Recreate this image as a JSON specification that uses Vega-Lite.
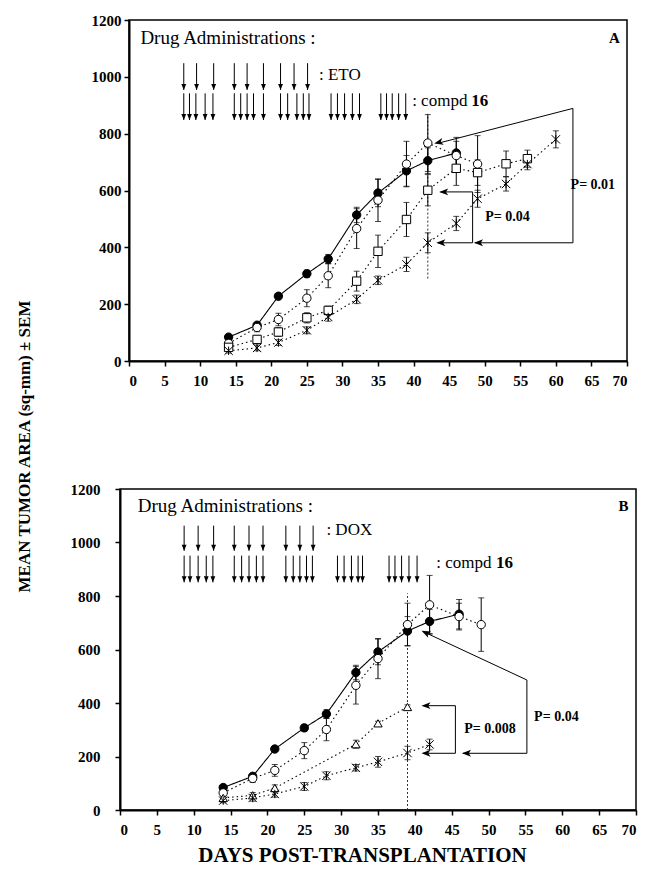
{
  "$schema": "https://vega.github.io/schema/vega-lite/v6.json",
  "background": "white",
  "padding": {"left": 14, "top": 12, "right": 5, "bottom": 5},
  "bounds": "flush",
  "center": true,
  "spacing": 128,
  "config": {
    "view": {"stroke": "black", "strokeWidth": 1.5},
    "font": "Liberation Serif",
    "axis": {
      "grid": false,
      "labelFont": "Liberation Serif",
      "labelFontWeight": "bold",
      "labelFontSize": 15,
      "labelColor": "black",
      "labelOverlap": false,
      "domainColor": "black",
      "domainWidth": 2,
      "tickColor": "black",
      "tickWidth": 1.5,
      "tickSize": 5,
      "format": "d",
      "titleFont": "Liberation Serif",
      "titleFontWeight": "bold",
      "titleColor": "black"
    }
  },
  "datasets": {
    "pts": [
      {"p":"A","g":"ctrl","day":14,"val":84,"lo":77,"hi":91},
      {"p":"A","g":"ctrl","day":18,"val":126,"lo":117,"hi":135},
      {"p":"A","g":"ctrl","day":21,"val":228,"lo":219,"hi":237},
      {"p":"A","g":"ctrl","day":25,"val":307,"lo":294,"hi":320},
      {"p":"A","g":"ctrl","day":28,"val":359,"lo":343,"hi":375},
      {"p":"A","g":"ctrl","day":32,"val":514,"lo":487,"hi":541},
      {"p":"A","g":"ctrl","day":35,"val":591,"lo":543,"hi":639},
      {"p":"A","g":"ctrl","day":39,"val":669,"lo":615,"hi":723},
      {"p":"A","g":"ctrl","day":42,"val":705,"lo":660,"hi":750},
      {"p":"A","g":"ctrl","day":46,"val":732,"lo":677,"hi":787},
      {"p":"A","g":"c16","day":14,"val":62,"lo":52,"hi":72},
      {"p":"A","g":"c16","day":18,"val":118,"lo":103,"hi":133},
      {"p":"A","g":"c16","day":21,"val":146,"lo":124,"hi":168},
      {"p":"A","g":"c16","day":25,"val":221,"lo":191,"hi":251},
      {"p":"A","g":"c16","day":28,"val":300,"lo":258,"hi":342},
      {"p":"A","g":"c16","day":32,"val":466,"lo":396,"hi":536},
      {"p":"A","g":"c16","day":35,"val":566,"lo":491,"hi":641},
      {"p":"A","g":"c16","day":39,"val":693,"lo":613,"hi":773},
      {"p":"A","g":"c16","day":42,"val":767,"lo":667,"hi":867},
      {"p":"A","g":"c16","day":46,"val":723,"lo":673,"hi":773},
      {"p":"A","g":"c16","day":49,"val":693,"lo":593,"hi":793},
      {"p":"A","g":"drug","day":14,"val":48,"lo":40,"hi":56},
      {"p":"A","g":"drug","day":18,"val":76,"lo":64,"hi":88},
      {"p":"A","g":"drug","day":21,"val":102,"lo":87,"hi":117},
      {"p":"A","g":"drug","day":25,"val":152,"lo":134,"hi":170},
      {"p":"A","g":"drug","day":28,"val":178,"lo":163,"hi":193},
      {"p":"A","g":"drug","day":32,"val":281,"lo":246,"hi":316},
      {"p":"A","g":"drug","day":35,"val":386,"lo":329,"hi":443},
      {"p":"A","g":"drug","day":39,"val":498,"lo":438,"hi":558},
      {"p":"A","g":"drug","day":42,"val":601,"lo":546,"hi":656},
      {"p":"A","g":"drug","day":46,"val":678,"lo":618,"hi":738},
      {"p":"A","g":"drug","day":49,"val":663,"lo":618,"hi":708},
      {"p":"A","g":"drug","day":53,"val":694,"lo":649,"hi":739},
      {"p":"A","g":"drug","day":56,"val":712,"lo":682,"hi":742},
      {"p":"A","g":"combo","day":14,"val":36,"lo":28,"hi":44},
      {"p":"A","g":"combo","day":18,"val":46,"lo":36,"hi":56},
      {"p":"A","g":"combo","day":21,"val":65,"lo":55,"hi":75},
      {"p":"A","g":"combo","day":25,"val":108,"lo":96,"hi":120},
      {"p":"A","g":"combo","day":28,"val":155,"lo":140,"hi":170},
      {"p":"A","g":"combo","day":32,"val":217,"lo":202,"hi":232},
      {"p":"A","g":"combo","day":35,"val":284,"lo":269,"hi":299},
      {"p":"A","g":"combo","day":39,"val":340,"lo":315,"hi":365},
      {"p":"A","g":"combo","day":42,"val":416,"lo":381,"hi":451},
      {"p":"A","g":"combo","day":46,"val":484,"lo":459,"hi":509},
      {"p":"A","g":"combo","day":49,"val":571,"lo":541,"hi":601},
      {"p":"A","g":"combo","day":53,"val":623,"lo":598,"hi":648},
      {"p":"A","g":"combo","day":56,"val":693,"lo":673,"hi":713},
      {"p":"A","g":"combo","day":60,"val":780,"lo":750,"hi":810},
      {"p":"B","g":"ctrl","day":14,"val":84,"lo":77,"hi":91},
      {"p":"B","g":"ctrl","day":18,"val":126,"lo":117,"hi":135},
      {"p":"B","g":"ctrl","day":21,"val":228,"lo":219,"hi":237},
      {"p":"B","g":"ctrl","day":25,"val":307,"lo":294,"hi":320},
      {"p":"B","g":"ctrl","day":28,"val":359,"lo":343,"hi":375},
      {"p":"B","g":"ctrl","day":32,"val":514,"lo":487,"hi":541},
      {"p":"B","g":"ctrl","day":35,"val":591,"lo":543,"hi":639},
      {"p":"B","g":"ctrl","day":39,"val":669,"lo":615,"hi":723},
      {"p":"B","g":"ctrl","day":42,"val":705,"lo":660,"hi":750},
      {"p":"B","g":"ctrl","day":46,"val":732,"lo":677,"hi":787},
      {"p":"B","g":"c16","day":14,"val":64,"lo":54,"hi":74},
      {"p":"B","g":"c16","day":18,"val":118,"lo":103,"hi":133},
      {"p":"B","g":"c16","day":21,"val":148,"lo":126,"hi":170},
      {"p":"B","g":"c16","day":25,"val":222,"lo":192,"hi":252},
      {"p":"B","g":"c16","day":28,"val":301,"lo":259,"hi":343},
      {"p":"B","g":"c16","day":32,"val":466,"lo":396,"hi":536},
      {"p":"B","g":"c16","day":35,"val":566,"lo":491,"hi":641},
      {"p":"B","g":"c16","day":39,"val":693,"lo":613,"hi":773},
      {"p":"B","g":"c16","day":42,"val":767,"lo":657,"hi":877},
      {"p":"B","g":"c16","day":46,"val":723,"lo":673,"hi":773},
      {"p":"B","g":"c16","day":49,"val":693,"lo":593,"hi":793},
      {"p":"B","g":"drug","day":14,"val":45,"lo":38,"hi":52},
      {"p":"B","g":"drug","day":18,"val":55,"lo":45,"hi":65},
      {"p":"B","g":"drug","day":21,"val":82,"lo":70,"hi":94},
      {"p":"B","g":"drug","day":32,"val":246,"lo":231,"hi":261},
      {"p":"B","g":"drug","day":35,"val":324,"lo":316,"hi":332},
      {"p":"B","g":"drug","day":39,"val":385,"lo":377,"hi":393},
      {"p":"B","g":"combo","day":14,"val":35,"lo":27,"hi":43},
      {"p":"B","g":"combo","day":18,"val":45,"lo":33,"hi":57},
      {"p":"B","g":"combo","day":21,"val":60,"lo":48,"hi":72},
      {"p":"B","g":"combo","day":25,"val":88,"lo":73,"hi":103},
      {"p":"B","g":"combo","day":28,"val":128,"lo":113,"hi":143},
      {"p":"B","g":"combo","day":32,"val":158,"lo":146,"hi":170},
      {"p":"B","g":"combo","day":35,"val":180,"lo":160,"hi":200},
      {"p":"B","g":"combo","day":39,"val":213,"lo":188,"hi":238},
      {"p":"B","g":"combo","day":42,"val":245,"lo":225,"hi":265}
    ],
    "doses": [
      {"p":"A","r":"drug","day":7.7,"val":1048,"val2":954},
      {"p":"A","r":"drug","day":9.5,"val":1048,"val2":954},
      {"p":"A","r":"drug","day":11.9,"val":1048,"val2":954},
      {"p":"A","r":"drug","day":14.8,"val":1048,"val2":954},
      {"p":"A","r":"drug","day":16.6,"val":1048,"val2":954},
      {"p":"A","r":"drug","day":18.9,"val":1048,"val2":954},
      {"p":"A","r":"drug","day":21.3,"val":1048,"val2":954},
      {"p":"A","r":"drug","day":23.2,"val":1048,"val2":954},
      {"p":"A","r":"drug","day":25.1,"val":1048,"val2":954},
      {"p":"A","r":"c16","day":7.7,"val":942,"val2":848},
      {"p":"A","r":"c16","day":8.5,"val":942,"val2":848},
      {"p":"A","r":"c16","day":9.4,"val":942,"val2":848},
      {"p":"A","r":"c16","day":10.7,"val":942,"val2":848},
      {"p":"A","r":"c16","day":11.8,"val":942,"val2":848},
      {"p":"A","r":"c16","day":14.8,"val":942,"val2":848},
      {"p":"A","r":"c16","day":15.7,"val":942,"val2":848},
      {"p":"A","r":"c16","day":16.6,"val":942,"val2":848},
      {"p":"A","r":"c16","day":17.5,"val":942,"val2":848},
      {"p":"A","r":"c16","day":18.9,"val":942,"val2":848},
      {"p":"A","r":"c16","day":21.3,"val":942,"val2":848},
      {"p":"A","r":"c16","day":22.3,"val":942,"val2":848},
      {"p":"A","r":"c16","day":23.6,"val":942,"val2":848},
      {"p":"A","r":"c16","day":24.5,"val":942,"val2":848},
      {"p":"A","r":"c16","day":25.3,"val":942,"val2":848},
      {"p":"A","r":"c16","day":28.4,"val":942,"val2":848},
      {"p":"A","r":"c16","day":29.3,"val":942,"val2":848},
      {"p":"A","r":"c16","day":30.3,"val":942,"val2":848},
      {"p":"A","r":"c16","day":31.4,"val":942,"val2":848},
      {"p":"A","r":"c16","day":32.4,"val":942,"val2":848},
      {"p":"A","r":"c16","day":35.4,"val":942,"val2":848},
      {"p":"A","r":"c16","day":36.2,"val":942,"val2":848},
      {"p":"A","r":"c16","day":37.0,"val":942,"val2":848},
      {"p":"A","r":"c16","day":37.9,"val":942,"val2":848},
      {"p":"A","r":"c16","day":38.9,"val":942,"val2":848},
      {"p":"B","r":"drug","day":8.7,"val":1063,"val2":969},
      {"p":"B","r":"drug","day":10.6,"val":1063,"val2":969},
      {"p":"B","r":"drug","day":12.7,"val":1063,"val2":969},
      {"p":"B","r":"drug","day":15.5,"val":1063,"val2":969},
      {"p":"B","r":"drug","day":17.5,"val":1063,"val2":969},
      {"p":"B","r":"drug","day":19.4,"val":1063,"val2":969},
      {"p":"B","r":"drug","day":22.5,"val":1063,"val2":969},
      {"p":"B","r":"drug","day":24.4,"val":1063,"val2":969},
      {"p":"B","r":"drug","day":26.2,"val":1063,"val2":969},
      {"p":"B","r":"c16","day":8.7,"val":951,"val2":851},
      {"p":"B","r":"c16","day":9.5,"val":951,"val2":851},
      {"p":"B","r":"c16","day":10.6,"val":951,"val2":851},
      {"p":"B","r":"c16","day":11.7,"val":951,"val2":851},
      {"p":"B","r":"c16","day":12.6,"val":951,"val2":851},
      {"p":"B","r":"c16","day":15.5,"val":951,"val2":851},
      {"p":"B","r":"c16","day":16.5,"val":951,"val2":851},
      {"p":"B","r":"c16","day":17.5,"val":951,"val2":851},
      {"p":"B","r":"c16","day":18.5,"val":951,"val2":851},
      {"p":"B","r":"c16","day":19.4,"val":951,"val2":851},
      {"p":"B","r":"c16","day":22.5,"val":951,"val2":851},
      {"p":"B","r":"c16","day":23.5,"val":951,"val2":851},
      {"p":"B","r":"c16","day":24.4,"val":951,"val2":851},
      {"p":"B","r":"c16","day":25.3,"val":951,"val2":851},
      {"p":"B","r":"c16","day":26.1,"val":951,"val2":851},
      {"p":"B","r":"c16","day":29.5,"val":951,"val2":851},
      {"p":"B","r":"c16","day":30.4,"val":951,"val2":851},
      {"p":"B","r":"c16","day":31.4,"val":951,"val2":851},
      {"p":"B","r":"c16","day":32.3,"val":951,"val2":851},
      {"p":"B","r":"c16","day":32.9,"val":951,"val2":851},
      {"p":"B","r":"c16","day":36.5,"val":951,"val2":851},
      {"p":"B","r":"c16","day":37.3,"val":951,"val2":851},
      {"p":"B","r":"c16","day":38.2,"val":951,"val2":851},
      {"p":"B","r":"c16","day":39.2,"val":951,"val2":851},
      {"p":"B","r":"c16","day":40.3,"val":951,"val2":851}
    ],
    "segs": [
      {"p":"A","k":"vl","day":42,"day2":42,"val":290,"val2":870},
      {"p":"A","k":"br","day":62.4,"day2":43.4,"val":889,"val2":766},
      {"p":"A","k":"br","day":62.4,"day2":62.4,"val":889,"val2":416},
      {"p":"A","k":"br","day":62.4,"day2":48.6,"val":416,"val2":416},
      {"p":"A","k":"br","day":48.3,"day2":48.3,"val":595,"val2":416},
      {"p":"A","k":"br","day":48.3,"day2":43.8,"val":595,"val2":595},
      {"p":"A","k":"br","day":48.3,"day2":43.4,"val":416,"val2":416},
      {"p":"B","k":"vl","day":39,"day2":39,"val":0,"val2":810},
      {"p":"B","k":"br","day":55.2,"day2":41.2,"val":486,"val2":666},
      {"p":"B","k":"br","day":55.2,"day2":55.2,"val":486,"val2":212},
      {"p":"B","k":"br","day":55.2,"day2":46.5,"val":212,"val2":212},
      {"p":"B","k":"br","day":45.5,"day2":45.5,"val":390,"val2":212},
      {"p":"B","k":"br","day":45.5,"day2":41.1,"val":390,"val2":390},
      {"p":"B","k":"br","day":45.5,"day2":41.1,"val":212,"val2":212}
    ],
    "heads": [
      {"p":"A","k":"left","day":48.5,"val":416},
      {"p":"A","k":"left","day":43.6,"val":595},
      {"p":"A","k":"left","day":43.2,"val":416},
      {"p":"A","k":"diag","day":42.9,"val":765},
      {"p":"B","k":"left","day":46.4,"val":212},
      {"p":"B","k":"left","day":40.9,"val":390},
      {"p":"B","k":"left","day":40.9,"val":212},
      {"p":"B","k":"diag","day":40.9,"val":670}
    ],
    "texts": [
      {"p":"A","role":"title","day":1.6,"val":1135,"label":"Drug Administrations :"},
      {"p":"A","role":"drug","day":26.7,"val":1008,"label":": ETO"},
      {"p":"A","role":"compd","day":39.8,"val":915,"label":": compd"},
      {"p":"A","role":"num","day":48.1,"val":915,"label":"16"},
      {"p":"A","role":"letter","day":69.0,"val":1135,"label":"A"},
      {"p":"A","role":"pval","day":65.2,"val":618,"label":"P= 0.01"},
      {"p":"A","role":"pval","day":53.2,"val":506,"label":"P= 0.04"},
      {"p":"B","role":"title","day":2.4,"val":1137,"label":"Drug Administrations :"},
      {"p":"B","role":"drug","day":28.0,"val":1045,"label":": DOX"},
      {"p":"B","role":"compd","day":42.9,"val":922,"label":": compd"},
      {"p":"B","role":"num","day":51.0,"val":922,"label":"16"},
      {"p":"B","role":"letter","day":69.0,"val":1135,"label":"B"},
      {"p":"B","role":"pval","day":59.2,"val":349,"label":"P= 0.04"},
      {"p":"B","role":"pval","day":50.2,"val":303,"label":"P= 0.008"}
    ]
  },
  "resolve": {"scale": {"x": "independent", "y": "independent", "shape": "independent", "fill": "independent", "strokeDash": "independent"}},
  "vconcat": [
    {
      "width": 498,
      "height": 341,
      "layer": [
        {
          "data": {"name": "segs"},
          "transform": [{"filter": "datum.p === 'A' && datum.k === 'vl'"}],
          "mark": {"type": "rule", "color": "#333", "strokeWidth": 1, "strokeDash": [2, 2]},
          "encoding": {
            "x": {"field": "day", "type": "quantitative", "scale": {"domain": [0, 70], "nice": false},
              "axis": {"title": null, "values": [0,5,10,15,20,25,30,35,40,45,50,55,60,65,70], "tickCount": 30, "labelOverlap": false, "labelPadding": 7}},
            "y": {"field": "val", "type": "quantitative", "scale": {"domain": [0, 1200], "nice": false},
              "axis": {"title": "MEAN TUMOR AREA (sq-mm) ± SEM", "values": [0,200,400,600,800,1000,1200], "tickCount": 20, "labelPadding": 3,
                "titleFontSize": 17, "titleAngle": 270, "titleAlign": "center", "titleBaseline": "bottom", "titleX": -96, "titleY": 426}},
            "x2": {"field": "day2"},
            "y2": {"field": "val2"}
          }
        },
        {
          "data": {"name": "pts"},
          "transform": [{"filter": "datum.p === 'A'"}],
          "mark": {"type": "line", "color": "black", "strokeWidth": 1.1},
          "encoding": {
            "x": {"field": "day", "type": "quantitative"},
            "y": {"field": "val", "type": "quantitative"},
            "detail": {"field": "g"},
            "strokeDash": {"field": "g", "type": "nominal", "legend": null,
              "scale": {"domain": ["ctrl", "c16", "drug", "combo"], "range": [[1, 0], [1.5, 3], [1.5, 3], [1.5, 3]]}}
          }
        },
        {
          "data": {"name": "pts"},
          "transform": [{"filter": "datum.p === 'A'"}],
          "mark": {"type": "errorbar", "ticks": {"size": 6}, "color": "black", "thickness": 1},
          "encoding": {
            "x": {"field": "day", "type": "quantitative"},
            "y": {"field": "lo", "type": "quantitative", "title": "MEAN TUMOR AREA (sq-mm) ± SEM"},
            "y2": {"field": "hi"}
          }
        },
        {
          "data": {"name": "pts"},
          "transform": [{"filter": "datum.p === 'A'"}],
          "mark": {"type": "point", "filled": true, "stroke": "black", "strokeWidth": 1, "opacity": 1, "size": 70},
          "encoding": {
            "x": {"field": "day", "type": "quantitative"},
            "y": {"field": "val", "type": "quantitative"},
            "shape": {"field": "g", "type": "nominal", "legend": null,
              "scale": {"domain": ["ctrl", "c16", "drug", "combo"], "range": ["circle", "circle", "square", "M-1,-1L1,1M1,-1L-1,1M0,-1L0,1"]}},
            "fill": {"field": "g", "type": "nominal", "legend": null,
              "scale": {"domain": ["ctrl", "c16", "drug", "combo"], "range": ["black", "white", "white", "white"]}}
          }
        },
        {
          "data": {"name": "doses"},
          "transform": [{"filter": "datum.p === 'A'"}],
          "mark": {"type": "rule", "color": "black", "strokeWidth": 1},
          "encoding": {
            "x": {"field": "day", "type": "quantitative"},
            "y": {"field": "val", "type": "quantitative"},
            "y2": {"field": "val2"}
          }
        },
        {
          "data": {"name": "doses"},
          "transform": [{"filter": "datum.p === 'A'"}],
          "mark": {"type": "point", "shape": "M0,0L-0.4,-1L0.4,-1Z", "filled": true, "color": "black", "opacity": 1, "size": 144},
          "encoding": {
            "x": {"field": "day", "type": "quantitative"},
            "y": {"field": "val2", "type": "quantitative"}
          }
        },
        {
          "data": {"name": "segs"},
          "transform": [{"filter": "datum.p === 'A' && datum.k === 'br'"}],
          "mark": {"type": "rule", "color": "black", "strokeWidth": 1},
          "encoding": {
            "x": {"field": "day", "type": "quantitative"},
            "y": {"field": "val", "type": "quantitative"},
            "x2": {"field": "day2"},
            "y2": {"field": "val2"}
          }
        },
        {
          "data": {"name": "heads"},
          "transform": [{"filter": "datum.p === 'A' && datum.k === 'left'"}],
          "mark": {"type": "point", "shape": "M0,0L1,-0.38L0.75,0L1,0.38Z", "filled": true, "color": "black", "opacity": 1, "size": 324},
          "encoding": {
            "x": {"field": "day", "type": "quantitative"},
            "y": {"field": "val", "type": "quantitative"}
          }
        },
        {
          "data": {"name": "heads"},
          "transform": [{"filter": "datum.p === 'A' && datum.k === 'diag'"}],
          "mark": {"type": "point", "shape": "M0,0L1,-0.38L0.75,0L1,0.38Z", "filled": true, "color": "black", "opacity": 1, "size": 324, "angle": -14},
          "encoding": {
            "x": {"field": "day", "type": "quantitative"},
            "y": {"field": "val", "type": "quantitative"}
          }
        },
        {
          "data": {"name": "texts"},
          "transform": [{"filter": "datum.p === 'A' && datum.role === 'title'"}],
          "mark": {"type": "text", "font": "Liberation Serif", "fontSize": 19, "align": "left", "baseline": "middle", "color": "black"},
          "encoding": {"x": {"field": "day", "type": "quantitative"}, "y": {"field": "val", "type": "quantitative"}, "text": {"field": "label"}}
        },
        {
          "data": {"name": "texts"},
          "transform": [{"filter": "datum.p === 'A' && (datum.role === 'drug' || datum.role === 'compd')"}],
          "mark": {"type": "text", "font": "Liberation Serif", "fontSize": 17, "align": "left", "baseline": "middle", "color": "black"},
          "encoding": {"x": {"field": "day", "type": "quantitative"}, "y": {"field": "val", "type": "quantitative"}, "text": {"field": "label"}}
        },
        {
          "data": {"name": "texts"},
          "transform": [{"filter": "datum.p === 'A' && datum.role === 'num'"}],
          "mark": {"type": "text", "font": "Liberation Serif", "fontSize": 17, "fontWeight": "bold", "align": "left", "baseline": "middle", "color": "black"},
          "encoding": {"x": {"field": "day", "type": "quantitative"}, "y": {"field": "val", "type": "quantitative"}, "text": {"field": "label"}}
        },
        {
          "data": {"name": "texts"},
          "transform": [{"filter": "datum.p === 'A' && datum.role === 'letter'"}],
          "mark": {"type": "text", "font": "Liberation Serif", "fontSize": 15, "fontWeight": "bold", "align": "right", "baseline": "middle", "color": "black"},
          "encoding": {"x": {"field": "day", "type": "quantitative"}, "y": {"field": "val", "type": "quantitative"}, "text": {"field": "label"}}
        },
        {
          "data": {"name": "texts"},
          "transform": [{"filter": "datum.p === 'A' && datum.role === 'pval'"}],
          "mark": {"type": "text", "font": "Liberation Serif", "fontSize": 14, "fontWeight": "bold", "align": "center", "baseline": "middle", "color": "black"},
          "encoding": {"x": {"field": "day", "type": "quantitative"}, "y": {"field": "val", "type": "quantitative"}, "text": {"field": "label"}}
        }
      ]
    },
    {
      "width": 516,
      "height": 321,
      "layer": [
        {
          "data": {"name": "segs"},
          "transform": [{"filter": "datum.p === 'B' && datum.k === 'vl'"}],
          "mark": {"type": "rule", "color": "#333", "strokeWidth": 1, "strokeDash": [2, 2]},
          "encoding": {
            "x": {"field": "day", "type": "quantitative", "scale": {"domain": [0, 70], "nice": false},
              "axis": {"title": "DAYS  POST-TRANSPLANTATION", "titleFontSize": 21, "titlePadding": 7, "titleX": 242, "values": [0,5,10,15,20,25,30,35,40,45,50,55,60,65,70], "tickCount": 30, "labelOverlap": false, "labelPadding": 7}},
            "y": {"field": "val", "type": "quantitative", "scale": {"domain": [0, 1200], "nice": false},
              "axis": {"title": null, "values": [0,200,400,600,800,1000,1200], "tickCount": 20, "labelPadding": 15}},
            "x2": {"field": "day2"},
            "y2": {"field": "val2"}
          }
        },
        {
          "data": {"name": "pts"},
          "transform": [{"filter": "datum.p === 'B'"}],
          "mark": {"type": "line", "color": "black", "strokeWidth": 1.1},
          "encoding": {
            "x": {"field": "day", "type": "quantitative"},
            "y": {"field": "val", "type": "quantitative"},
            "detail": {"field": "g"},
            "strokeDash": {"field": "g", "type": "nominal", "legend": null,
              "scale": {"domain": ["ctrl", "c16", "drug", "combo"], "range": [[1, 0], [1.5, 3], [1.5, 3], [1.5, 3]]}}
          }
        },
        {
          "data": {"name": "pts"},
          "transform": [{"filter": "datum.p === 'B'"}],
          "mark": {"type": "errorbar", "ticks": {"size": 6}, "color": "black", "thickness": 1},
          "encoding": {
            "x": {"field": "day", "type": "quantitative"},
            "y": {"field": "lo", "type": "quantitative", "title": null},
            "y2": {"field": "hi"}
          }
        },
        {
          "data": {"name": "pts"},
          "transform": [{"filter": "datum.p === 'B'"}],
          "mark": {"type": "point", "filled": true, "stroke": "black", "strokeWidth": 1, "opacity": 1, "size": 70},
          "encoding": {
            "x": {"field": "day", "type": "quantitative"},
            "y": {"field": "val", "type": "quantitative"},
            "shape": {"field": "g", "type": "nominal", "legend": null,
              "scale": {"domain": ["ctrl", "c16", "drug", "combo"], "range": ["circle", "circle", "triangle-up", "M-1,-1L1,1M1,-1L-1,1M0,-1L0,1"]}},
            "fill": {"field": "g", "type": "nominal", "legend": null,
              "scale": {"domain": ["ctrl", "c16", "drug", "combo"], "range": ["black", "white", "white", "white"]}}
          }
        },
        {
          "data": {"name": "doses"},
          "transform": [{"filter": "datum.p === 'B'"}],
          "mark": {"type": "rule", "color": "black", "strokeWidth": 1},
          "encoding": {
            "x": {"field": "day", "type": "quantitative"},
            "y": {"field": "val", "type": "quantitative"},
            "y2": {"field": "val2"}
          }
        },
        {
          "data": {"name": "doses"},
          "transform": [{"filter": "datum.p === 'B'"}],
          "mark": {"type": "point", "shape": "M0,0L-0.4,-1L0.4,-1Z", "filled": true, "color": "black", "opacity": 1, "size": 144},
          "encoding": {
            "x": {"field": "day", "type": "quantitative"},
            "y": {"field": "val2", "type": "quantitative"}
          }
        },
        {
          "data": {"name": "segs"},
          "transform": [{"filter": "datum.p === 'B' && datum.k === 'br'"}],
          "mark": {"type": "rule", "color": "black", "strokeWidth": 1},
          "encoding": {
            "x": {"field": "day", "type": "quantitative"},
            "y": {"field": "val", "type": "quantitative"},
            "x2": {"field": "day2"},
            "y2": {"field": "val2"}
          }
        },
        {
          "data": {"name": "heads"},
          "transform": [{"filter": "datum.p === 'B' && datum.k === 'left'"}],
          "mark": {"type": "point", "shape": "M0,0L1,-0.38L0.75,0L1,0.38Z", "filled": true, "color": "black", "opacity": 1, "size": 324},
          "encoding": {
            "x": {"field": "day", "type": "quantitative"},
            "y": {"field": "val", "type": "quantitative"}
          }
        },
        {
          "data": {"name": "heads"},
          "transform": [{"filter": "datum.p === 'B' && datum.k === 'diag'"}],
          "mark": {"type": "point", "shape": "M0,0L1,-0.38L0.75,0L1,0.38Z", "filled": true, "color": "black", "opacity": 1, "size": 324, "angle": 25},
          "encoding": {
            "x": {"field": "day", "type": "quantitative"},
            "y": {"field": "val", "type": "quantitative"}
          }
        },
        {
          "data": {"name": "texts"},
          "transform": [{"filter": "datum.p === 'B' && datum.role === 'title'"}],
          "mark": {"type": "text", "font": "Liberation Serif", "fontSize": 19, "align": "left", "baseline": "middle", "color": "black"},
          "encoding": {"x": {"field": "day", "type": "quantitative"}, "y": {"field": "val", "type": "quantitative"}, "text": {"field": "label"}}
        },
        {
          "data": {"name": "texts"},
          "transform": [{"filter": "datum.p === 'B' && (datum.role === 'drug' || datum.role === 'compd')"}],
          "mark": {"type": "text", "font": "Liberation Serif", "fontSize": 17, "align": "left", "baseline": "middle", "color": "black"},
          "encoding": {"x": {"field": "day", "type": "quantitative"}, "y": {"field": "val", "type": "quantitative"}, "text": {"field": "label"}}
        },
        {
          "data": {"name": "texts"},
          "transform": [{"filter": "datum.p === 'B' && datum.role === 'num'"}],
          "mark": {"type": "text", "font": "Liberation Serif", "fontSize": 17, "fontWeight": "bold", "align": "left", "baseline": "middle", "color": "black"},
          "encoding": {"x": {"field": "day", "type": "quantitative"}, "y": {"field": "val", "type": "quantitative"}, "text": {"field": "label"}}
        },
        {
          "data": {"name": "texts"},
          "transform": [{"filter": "datum.p === 'B' && datum.role === 'letter'"}],
          "mark": {"type": "text", "font": "Liberation Serif", "fontSize": 15, "fontWeight": "bold", "align": "right", "baseline": "middle", "color": "black"},
          "encoding": {"x": {"field": "day", "type": "quantitative"}, "y": {"field": "val", "type": "quantitative"}, "text": {"field": "label"}}
        },
        {
          "data": {"name": "texts"},
          "transform": [{"filter": "datum.p === 'B' && datum.role === 'pval'"}],
          "mark": {"type": "text", "font": "Liberation Serif", "fontSize": 14, "fontWeight": "bold", "align": "center", "baseline": "middle", "color": "black"},
          "encoding": {"x": {"field": "day", "type": "quantitative"}, "y": {"field": "val", "type": "quantitative"}, "text": {"field": "label"}}
        }
      ]
    }
  ]
}
